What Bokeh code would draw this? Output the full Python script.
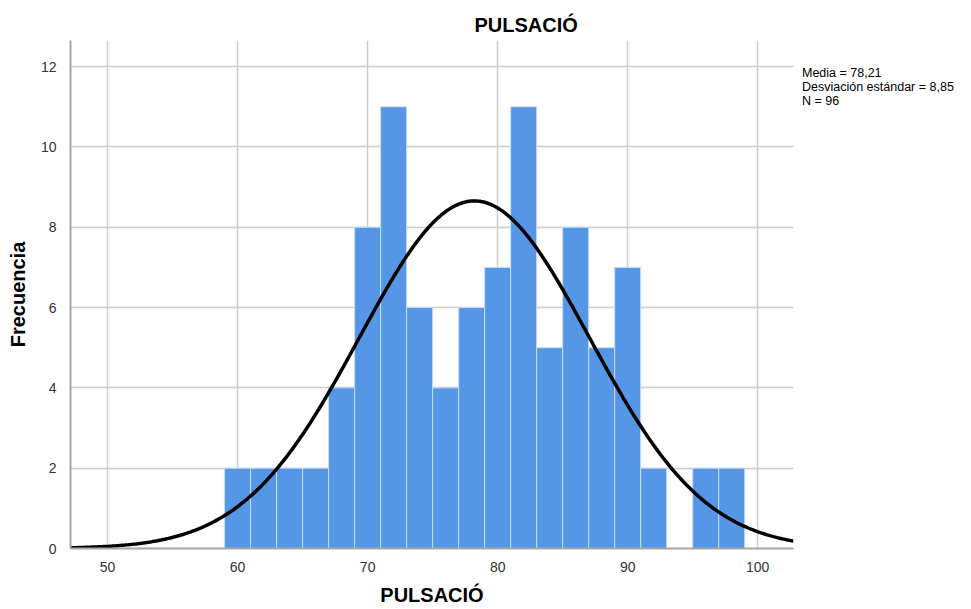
import numpy as np
from bokeh.plotting import figure
from bokeh.models import Range1d, Title, FixedTicker, Legend, LegendItem
from bokeh.embed import file_html
from bokeh.resources import INLINE

# Data
bin_left = [59, 61, 63, 65, 67, 69, 71, 73, 75, 77, 79, 81, 83, 85, 87, 89, 91, 93, 95, 97]
counts = [2, 2, 2, 2, 4, 8, 11, 6, 4, 6, 7, 11, 5, 8, 5, 7, 2, 0, 2, 2]
bin_width = 2
mean = 78.21
std = 8.85
n = 96
x_ticks = [50, 60, 70, 80, 90, 100]
y_ticks = [0, 2, 4, 6, 8, 10, 12]
stats_lines = ["Media = 78,21", "Desviación estándar = 8,85", "N = 96"]

FONT = "Liberation Sans"
X0, X1 = 47.15, 102.75
Y0, Y1 = 0, 12.65

p = figure(frame_width=723, frame_height=508, output_backend="svg", toolbar_location=None,
           x_range=Range1d(X0, X1), y_range=Range1d(Y0, Y1),
           min_border_left=70, min_border_right=178, min_border_top=40, min_border_bottom=61)
p.outline_line_color = None
p.background_fill_color = "white"
p.border_fill_color = "white"

lefts = np.array(bin_left, dtype=float)
p.quad(left=lefts, right=lefts + bin_width, bottom=0, top=counts,
       fill_color="#5596e6", line_color="#c9dcf5", line_width=1)

xs = np.linspace(X0, X1, 400)
ys = n * bin_width / (std * np.sqrt(2 * np.pi)) * np.exp(-0.5 * ((xs - mean) / std) ** 2)
p.line(xs, ys, line_color="black", line_width=3.5)

p.xaxis.ticker = FixedTicker(ticks=x_ticks)
p.yaxis.ticker = FixedTicker(ticks=y_ticks)
for ax in (p.xaxis[0], p.yaxis[0]):
    ax.axis_line_color = "#a6a6a6"
    ax.axis_line_width = 2
    ax.major_tick_line_color = None
    ax.minor_tick_line_color = None
    ax.major_label_text_font = FONT
    ax.major_label_text_font_size = "14px"
    ax.major_label_text_color = "#333333"
    ax.axis_label_text_font = FONT
    ax.axis_label_text_font_size = "20px"
    ax.axis_label_text_font_style = "bold"
    ax.axis_label_text_color = "black"
p.xaxis.axis_label = "PULSACIÓ"
p.yaxis.axis_label = "Frecuencia"
p.xaxis.major_label_standoff = 7
p.yaxis.major_label_standoff = 8
p.xaxis.axis_label_standoff = 9
p.yaxis.axis_label_standoff = 9

p.xgrid.ticker = FixedTicker(ticks=x_ticks)
p.ygrid.ticker = FixedTicker(ticks=y_ticks)
p.grid.grid_line_color = "#cccccc"
p.grid.grid_line_width = 1.5

t = Title(text="PULSACIÓ", align="left", offset=404, text_font=FONT,
          text_font_size="20px", text_font_style="bold", text_color="black")
p.add_layout(t, "above")

# statistics box as a glyph-less legend in the right margin
dummy = p.scatter([X0], [Y0], size=0, alpha=0)
items = [LegendItem(label=s, renderers=[dummy]) for s in stats_lines]
leg = Legend(items=items, location=(9, 440), orientation="vertical",
             glyph_width=0, glyph_height=14, label_standoff=0, label_height=14,
             spacing=0, padding=0, margin=0, border_line_color=None,
             background_fill_alpha=0, label_text_font=FONT,
             label_text_font_size="12.5px", label_text_color="black",
             label_text_line_height=1.0)
p.add_layout(leg, "right")

open("out.html", "w").write(file_html(p, INLINE))
